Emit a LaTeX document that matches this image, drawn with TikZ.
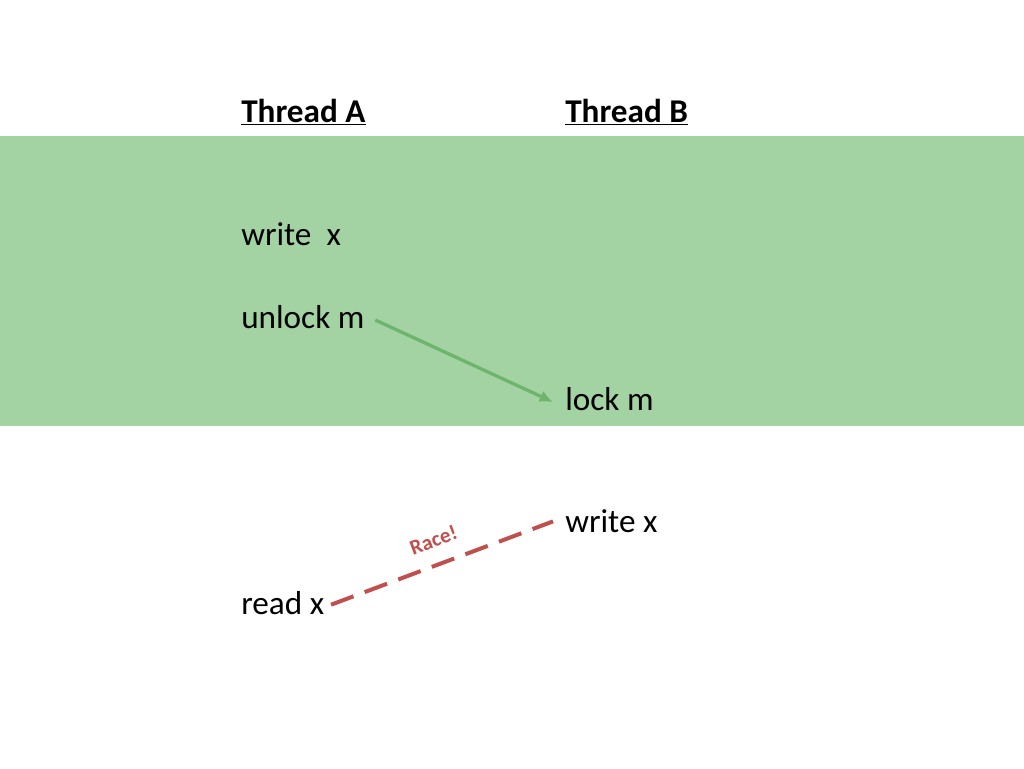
\documentclass[tikz,border=0pt]{standalone}
\usepackage{fontspec}
\setmainfont{Carlito}
\usetikzlibrary{arrows.meta,positioning}
\definecolor{band}{HTML}{A3D3A3}
\definecolor{hb}{HTML}{6DB56D}
\definecolor{racered}{HTML}{C0504D}
\tikzset{
  op/.style={anchor=base west, inner sep=0pt, font=\fontsize{25}{29}\selectfont},
  head/.style={op, font=\fontsize{25}{29}\selectfont\bfseries},
  hbarrow/.style={-{Latex[length=10pt,width=9pt]}, line width=2.5pt, draw=hb},
  race/.style={dashed, dash pattern=on 18pt off 9pt, line width=3pt, draw=racered},
}
\begin{document}
\begin{tikzpicture}[x=0.02646cm, y=-0.02646cm]
  \useasboundingbox (0,0) rectangle (1024,768);
  \fill[band] (0,136) rectangle (1024,426);

  \node[head] (ta) at (241,122) {\underline{Thread A}};
  \node[head] (tb) at (565,122) {\underline{Thread B}};

  \node[op] (wa) at (241,245) {write\ \ x};
  \node[op] (ul) at (241,328) {unlock m};
  \node[op] (lk) at (565,410) {lock m};
  \node[op] (wb) at (565,532) {write x};
  \node[op] (rd) at (241,614) {read x};

  \draw[hbarrow] ([xshift=8pt,yshift=6pt]ul.base east) -- ([xshift=-9pt,yshift=6pt]lk.base west);
  \draw[race] ([xshift=5pt,yshift=7pt]rd.base east) -- node[above=8pt, sloped, text=racered, font=\fontsize{16}{18}\selectfont\bfseries] (rc) {Race!} ([xshift=-9pt,yshift=8pt]wb.base west);
\end{tikzpicture}
\end{document}
